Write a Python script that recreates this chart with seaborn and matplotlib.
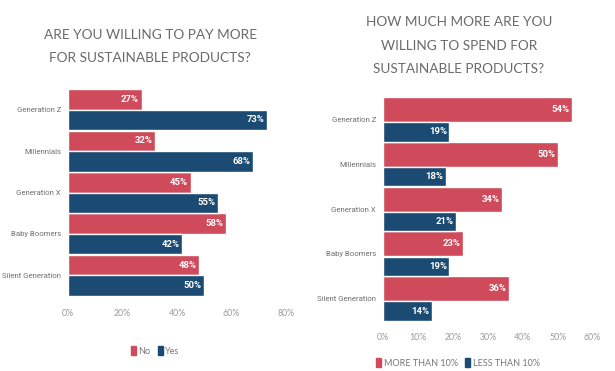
import matplotlib
matplotlib.use("Agg")
import matplotlib.pyplot as plt
from matplotlib.patches import Patch
import seaborn as sns
import pandas as pd

generations = ["Generation Z", "Millennials", "Generation X", "Baby Boomers", "Silent Generation"]

# Willing to pay more
pay_no = [27, 32, 45, 58, 48]
pay_yes = [73, 68, 55, 42, 50]
pay_labels = ["No", "Yes"]

# How much more
spend_more10 = [54, 50, 34, 23, 36]
spend_less10 = [19, 18, 21, 19, 14]
spend_labels = ["MORE THAN 10%", "LESS THAN 10%"]

left_ticks = [0, 20, 40, 60, 80]
right_ticks = [0, 10, 20, 30, 40, 50, 60]

RED = "#cf4a5a"
NAVY = "#1b4a72"
GRAY = "#6a6a6a"
NARROW = ["Roboto", "DejaVu Sans"]

sns.set_theme(style="white")
plt.rcParams["font.family"] = ["Lato", "DejaVu Sans"]

fig = plt.figure(figsize=(6.15, 3.71), dpi=100)
ax1 = fig.add_axes([68 / 615, 1 - 296 / 371, 218 / 615, 207 / 371])
ax2 = fig.add_axes([383 / 615, 1 - 321 / 371, 209.6 / 615, 224 / 371])


def long_table(a, b, names):
    return pd.DataFrame({
        "gen": generations * 2,
        "value": a + b,
        "series": [names[0]] * len(a) + [names[1]] * len(b),
    })


def draw(ax, df, names, xmax, ticks):
    sns.barplot(data=df, x="value", y="gen", hue="series", hue_order=names,
                palette=[RED, NAVY], orient="h", width=0.99, dodge=True,
                saturation=1, legend=False, ax=ax, errorbar=None)
    ax.set_xlim(0, xmax)
    ax.set_ylim(len(generations) - 0.5, -0.5)
    ax.set_xticks(ticks)
    ax.set_xticklabels([f"{t}%" for t in ticks])
    ax.set_xlabel("")
    ax.set_ylabel("")
    for s in ax.spines.values():
        s.set_visible(False)
    ax.tick_params(axis="x", length=0, pad=9, labelsize=6.3, labelcolor="#9a9a9a")
    ax.tick_params(axis="y", length=0, pad=5, labelsize=5.6, labelcolor="#707070")
    for lab in ax.get_yticklabels():
        lab.set_family(NARROW)
        lab.set_fontstretch("condensed")
    return ax


draw(ax1, long_table(pay_no, pay_yes, pay_labels), pay_labels, 80, left_ticks)
draw(ax2, long_table(spend_more10, spend_less10, spend_labels), spend_labels, 60, right_ticks)

# Right chart: thicker red bars, thinner navy bars
n = len(generations)
for i, p in enumerate(ax2.patches[:2 * n]):
    center = p.get_y() + p.get_height() / 2
    group = round(center)
    if i < n:
        p.set_y(group - 0.5)
        p.set_height(0.556)
    else:
        p.set_y(group + 0.064)
        p.set_height(0.43)

# value labels inside bar ends
for ax in (ax1, ax2):
    xmax = ax.get_xlim()[1]
    for p in ax.patches[:2 * n]:
        w = p.get_width()
        ax.text(w - xmax * 0.012, p.get_y() + p.get_height() / 2, f"{w:.0f}%",
                ha="right", va="center", color="white", fontsize=6.8,
                fontweight="bold", family=NARROW)

fig.text(150 / 615, 1 - 46.5 / 371, "ARE YOU WILLING TO PAY MORE\nFOR SUSTAINABLE PRODUCTS?",
         ha="center", va="center", fontsize=9.8, color=GRAY, linespacing=2.05)
fig.text(459 / 615, 1 - 45.5 / 371, "HOW MUCH MORE ARE YOU\nWILLING TO SPEND FOR\nSUSTAINABLE PRODUCTS?",
         ha="center", va="center", fontsize=9.8, color=GRAY, linespacing=2.15)

leg_kw = dict(frameon=False, handlelength=0.6, handleheight=1.1, handletextpad=0.25,
              columnspacing=0.8, fontsize=6.5, labelcolor="#777777", ncol=2,
              borderaxespad=0, borderpad=0)
fig.legend([Patch(color=RED), Patch(color=NAVY)], pay_labels,
           loc="center", bbox_to_anchor=(155 / 615, 1 - 351 / 371), **leg_kw)
fig.legend([Patch(color=RED), Patch(color=NAVY)], spend_labels,
           loc="center left", bbox_to_anchor=(376 / 615, 1 - 363 / 371), **leg_kw)

fig.savefig("out.png", dpi=100)
